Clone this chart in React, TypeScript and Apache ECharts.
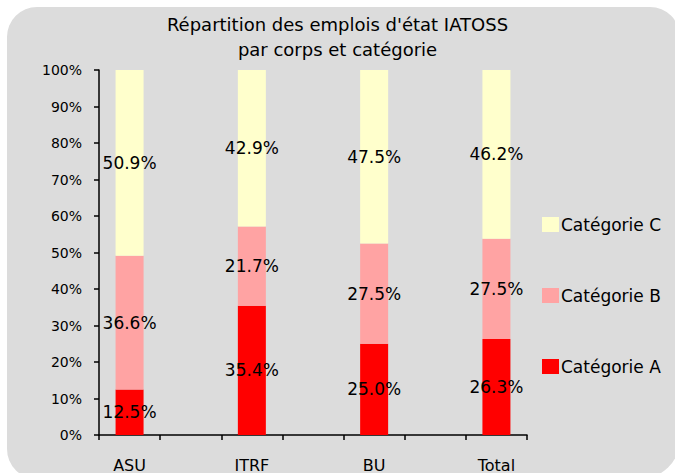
import React, { useEffect, useRef } from "react";
import * as echarts from "echarts";

const categories = ["ASU", "", "ITRF", "", "BU", "", "Total"];
const catA = [12.5, null, 35.4, null, 25.0, null, 26.3];
const catB = [36.6, null, 21.7, null, 27.5, null, 27.5];
const catC = [50.9, null, 42.9, null, 47.5, null, 46.2];
const seriesNames = ["Catégorie A", "Catégorie B", "Catégorie C"];
const yTicks = [0, 10, 20, 30, 40, 50, 60, 70, 80, 90, 100];

const FONT = "'DejaVu Sans', Verdana, sans-serif";

export default function App() {
  const ref = useRef<HTMLDivElement>(null);
  useEffect(() => {
    if (!ref.current) return;
    const chart = echarts.init(ref.current, null, { renderer: "svg" });
    const label = {
      show: true,
      position: "inside",
      color: "#000",
      fontSize: 17,
      fontFamily: FONT,
      formatter: (p: any) => (p.value == null ? "" : `${p.value.toFixed(1)}%`),
    };
    const colors = ["#ff0000", "#ffa3a3", "#ffffcc"];
    const data = [catA, catB, catC];
    chart.setOption({
      animation: false,
      textStyle: { fontFamily: FONT },
      graphic: [
        {
          type: "rect",
          z: -10,
          shape: { x: 7, y: 7, width: 673, height: 472, r: [30, 30, 40, 30] },
          style: { fill: "#dcdcdc" },
          silent: true,
        },
      ],
      title: {
        text: "Répartition des emplois d'état IATOSS\npar corps et catégorie",
        left: "center",
        top: 7,
        textStyle: {
          fontSize: 18,
          fontWeight: "normal",
          color: "#000",
          lineHeight: 25,
          fontFamily: FONT,
        },
      },
      legend: {
        orient: "vertical",
        left: 537,
        top: 211,
        itemWidth: 17,
        itemHeight: 15,
        itemGap: 54,
        icon: "rect",
        data: ["Catégorie C", "Catégorie B", "Catégorie A"],
        textStyle: { fontSize: 17, color: "#000", fontFamily: FONT, padding: [0, 0, 0, -3] },
      },
      grid: { left: 99, right: 148, top: 70, bottom: 36, containLabel: false },
      xAxis: {
        type: "category",
        data: categories,
        axisLine: { lineStyle: { color: "#000", width: 1.5 } },
        axisTick: { show: true, interval: 0, alignWithLabel: false, length: 5, lineStyle: { color: "#000", width: 1.5 } },
        axisLabel: { interval: 0, color: "#000", fontSize: 16, margin: 22, fontFamily: FONT },
      },
      yAxis: {
        type: "value",
        min: yTicks[0],
        max: yTicks[yTicks.length - 1],
        interval: 10,
        axisLine: { show: true, lineStyle: { color: "#000", width: 1.5 } },
        axisTick: { show: true, length: 5, lineStyle: { color: "#000", width: 1.5 } },
        splitLine: { show: false },
        axisLabel: { color: "#000", fontSize: 14, margin: 17, formatter: "{value}%", fontFamily: FONT },
      },
      series: seriesNames.map((name, i) => ({
        name,
        type: "bar",
        stack: "total",
        barWidth: 28,
        data: data[i],
        itemStyle: { color: colors[i] },
        label,
      })),
    });
    return () => chart.dispose();
  }, []);
  return <div ref={ref} style={{ width: 675, height: 473, position: "absolute", left: 0, top: 0 }} />;
}
